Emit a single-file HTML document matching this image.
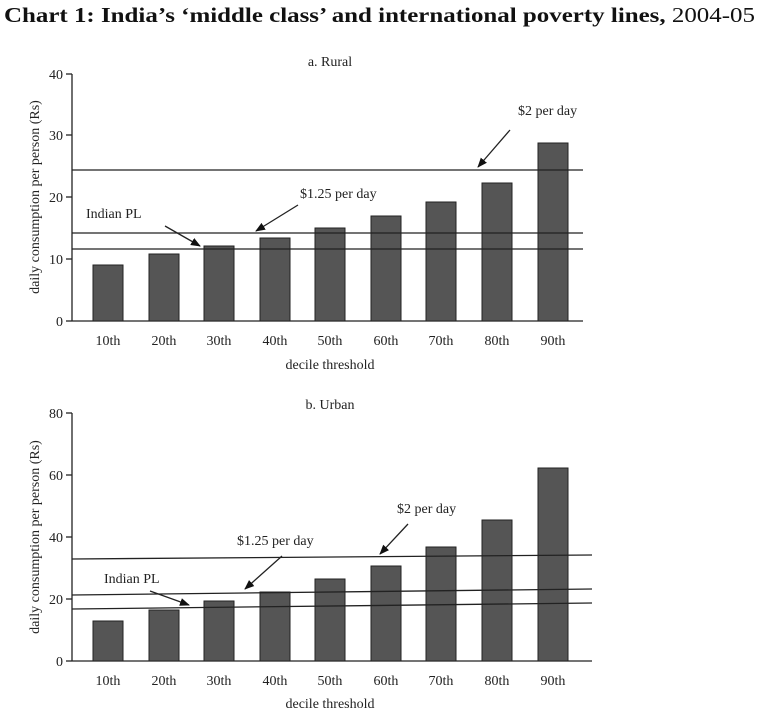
<!DOCTYPE html>
<html><head><meta charset="utf-8"><style>
body{margin:0;background:#fff;}
svg{display:block;font-family:"Liberation Serif",serif;}
</style></head><body>
<svg width="768" height="723" viewBox="0 0 768 723">
<defs><marker id="a" markerWidth="10" markerHeight="10" refX="9" refY="5" orient="auto" markerUnits="userSpaceOnUse"><path d="M0,1 L10,5 L0,9 Z" fill="#111"/></marker></defs>
<text x="4" y="22" font-size="21" font-weight="bold" fill="#111" textLength="751" lengthAdjust="spacingAndGlyphs">Chart 1: India’s ‘middle class’ and international poverty lines, <tspan font-weight="normal">2004-05</tspan></text>
<g font-size="14" fill="#222" stroke="none">
<text x="330" y="66" text-anchor="middle">a. Rural</text>
<text x="330" y="409" text-anchor="middle">b. Urban</text>
</g>
<!-- top chart -->
<g stroke="#222" stroke-width="1.3" fill="none">
<line x1="72" y1="74" x2="72" y2="321"/><line x1="72" y1="321" x2="583" y2="321"/>
<line x1="66" y1="74" x2="72" y2="74"/><line x1="66" y1="135" x2="72" y2="135"/><line x1="66" y1="197" x2="72" y2="197"/><line x1="66" y1="259" x2="72" y2="259"/><line x1="66" y1="321" x2="72" y2="321"/>
</g>
<g font-size="14" fill="#222" text-anchor="end">
<text x="63" y="79">40</text><text x="63" y="140">30</text><text x="63" y="202">20</text><text x="63" y="264">10</text><text x="63" y="326">0</text>
</g>
<g fill="#555" stroke="#222" stroke-width="1">
<rect x="93" y="265" width="30" height="56"/><rect x="149" y="254" width="30" height="67"/><rect x="204" y="246" width="30" height="75"/><rect x="260" y="238" width="30" height="83"/><rect x="315" y="228" width="30" height="93"/><rect x="371" y="216" width="30" height="105"/><rect x="426" y="202" width="30" height="119"/><rect x="482" y="183" width="30" height="138"/><rect x="538" y="143" width="30" height="178"/>
</g>
<g stroke="#222" stroke-width="1.3">
<line x1="72" y1="170" x2="583" y2="170"/><line x1="72" y1="233" x2="583" y2="233"/><line x1="72" y1="249" x2="583" y2="249"/>
<line x1="510" y1="130" x2="478" y2="167" marker-end="url(#a)"/>
<line x1="298" y1="205" x2="256" y2="231" marker-end="url(#a)"/>
<line x1="165" y1="226" x2="200" y2="246" marker-end="url(#a)"/>
</g>
<g font-size="14" fill="#222">
<text x="518" y="115">$2 per day</text><text x="300" y="198">$1.25 per day</text><text x="86" y="218">Indian PL</text>
</g>
<g font-size="14" fill="#222" text-anchor="middle">
<text x="108" y="345">10th</text><text x="164" y="345">20th</text><text x="219" y="345">30th</text><text x="275" y="345">40th</text><text x="330" y="345">50th</text><text x="386" y="345">60th</text><text x="441" y="345">70th</text><text x="497" y="345">80th</text><text x="553" y="345">90th</text>
<text x="330" y="369">decile threshold</text>
<text transform="translate(39,197) rotate(-90)">daily consumption per person (Rs)</text>
</g>
<!-- bottom chart -->
<g stroke="#222" stroke-width="1.3" fill="none">
<line x1="72" y1="413" x2="72" y2="661"/><line x1="72" y1="661" x2="592" y2="661"/>
<line x1="66" y1="413" x2="72" y2="413"/><line x1="66" y1="475" x2="72" y2="475"/><line x1="66" y1="537" x2="72" y2="537"/><line x1="66" y1="599" x2="72" y2="599"/><line x1="66" y1="661" x2="72" y2="661"/>
</g>
<g font-size="14" fill="#222" text-anchor="end">
<text x="63" y="418">80</text><text x="63" y="480">60</text><text x="63" y="542">40</text><text x="63" y="604">20</text><text x="63" y="666">0</text>
</g>
<g fill="#555" stroke="#222" stroke-width="1">
<rect x="93" y="621" width="30" height="40"/><rect x="149" y="610" width="30" height="51"/><rect x="204" y="601" width="30" height="60"/><rect x="260" y="592" width="30" height="69"/><rect x="315" y="579" width="30" height="82"/><rect x="371" y="566" width="30" height="95"/><rect x="426" y="547" width="30" height="114"/><rect x="482" y="520" width="30" height="141"/><rect x="538" y="468" width="30" height="193"/>
</g>
<g stroke="#222" stroke-width="1.3">
<line x1="72" y1="559" x2="592" y2="555"/><line x1="72" y1="595" x2="592" y2="589"/><line x1="72" y1="609" x2="592" y2="603"/>
<line x1="408" y1="524" x2="380" y2="554" marker-end="url(#a)"/>
<line x1="282" y1="556" x2="245" y2="589" marker-end="url(#a)"/>
<line x1="150" y1="591" x2="189" y2="605" marker-end="url(#a)"/>
</g>
<g font-size="14" fill="#222">
<text x="397" y="513">$2 per day</text><text x="237" y="545">$1.25 per day</text><text x="104" y="583">Indian PL</text>
</g>
<g font-size="14" fill="#222" text-anchor="middle">
<text x="108" y="685">10th</text><text x="164" y="685">20th</text><text x="219" y="685">30th</text><text x="275" y="685">40th</text><text x="330" y="685">50th</text><text x="386" y="685">60th</text><text x="441" y="685">70th</text><text x="497" y="685">80th</text><text x="553" y="685">90th</text>
<text x="330" y="708">decile threshold</text>
<text transform="translate(39,537) rotate(-90)">daily consumption per person (Rs)</text>
</g>
</svg>
</body></html>
